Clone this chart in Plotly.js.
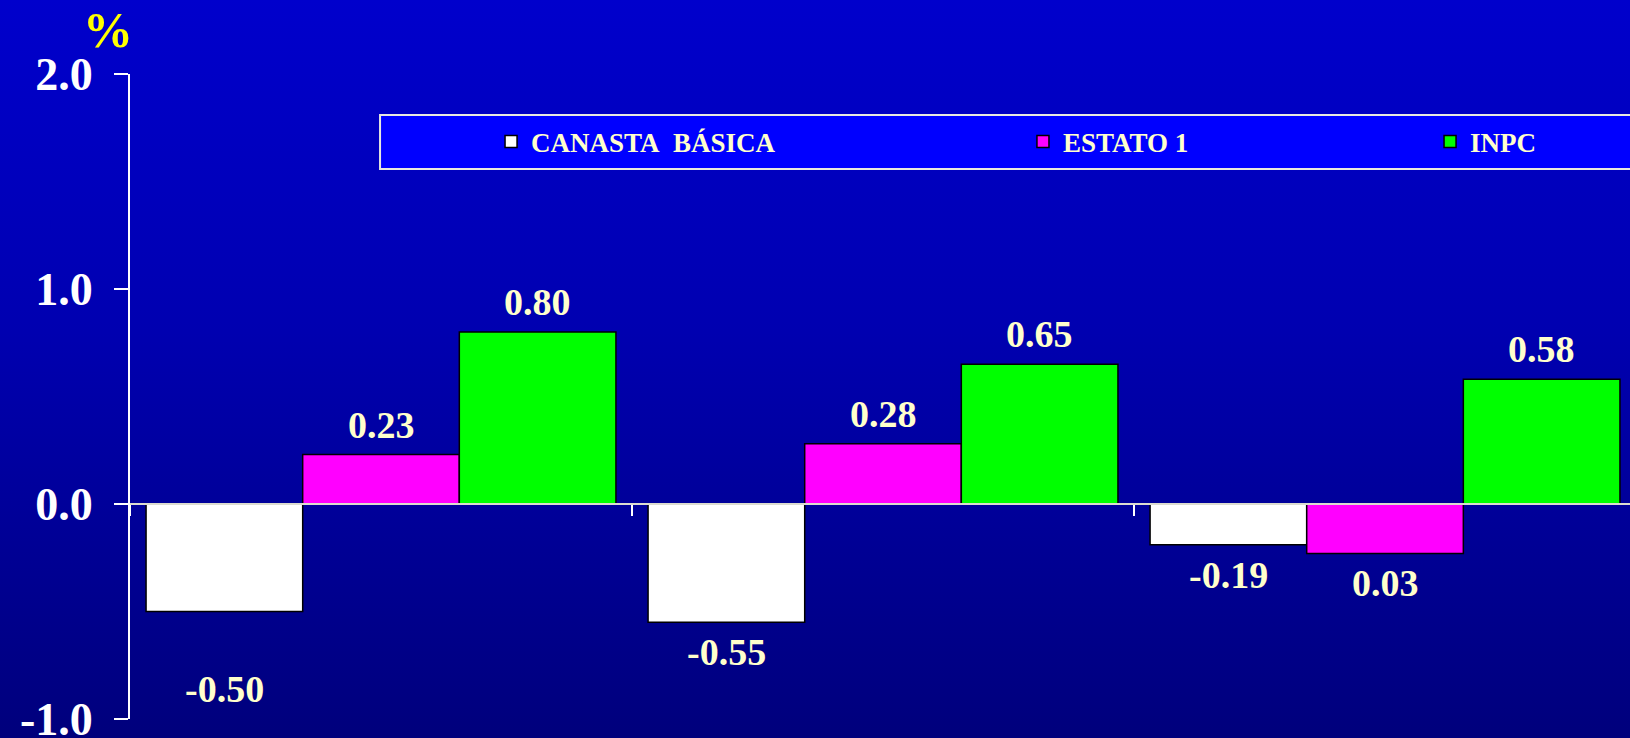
<!DOCTYPE html>
<html>
<head>
<meta charset="utf-8">
<script src="https://cdn.plot.ly/plotly-3.0.1.min.js"></script>
<style>
  html, body { margin: 0; padding: 0; }
  #chart { width: 1630px; height: 738px;
    background: linear-gradient(to bottom, #0000cc 0%, #0000b0 45%, #00007c 100%); }
</style>
</head>
<body>
<div id="chart"></div>
<script>
// ---- data ----
const categories = ["G1", "G2", "G3"];
const seriesNames = ["CANASTA\u00a0 BÁSICA", "ESTATO 1", "INPC"];
const canasta = [-0.50, -0.55, -0.19];
const estato = [0.23, 0.28, -0.23];
const inpc = [0.80, 0.65, 0.58];
const canastaLabels = ["-0.50", "-0.55", "-0.19"];
const estatoLabels = ["0.23", "0.28", "0.03"];
const inpcLabels = ["0.80", "0.65", "0.58"];
const yTickVals = [-1, 0, 1, 2];
const yTickText = ["-1.0", "0.0", "1.0", "2.0"];

const SERIF = "Liberation Serif, Times New Roman, serif";
const colors = ["#ffffff", "#ff00ff", "#00ff00"];
const values = [canasta, estato, inpc];
const labels = [canastaLabels, estatoLabels, inpcLabels];
const legendIds = ["legend", "legend2", "legend3"];

const traces = values.map((v, i) => ({
  type: "bar",
  x: categories,
  y: v,
  name: seriesNames[i],
  legend: legendIds[i],
  marker: { color: colors[i], line: { color: "#000000", width: 1.5 } },
  hoverinfo: "skip"
}));

const xRange = [-0.5, 2.488];
const plotW = 1500, bargap = 0.064;
const barPx = plotW / (xRange[1] - xRange[0]) * (1 - bargap) / values.length;
const extraDrop = { "0-0": 47 };

const annotations = [];
values.forEach((v, s) => {
  v.forEach((val, c) => {
    const pos = val >= 0;
    const drop = extraDrop[s + "-" + c] || 0;
    annotations.push({
      x: categories[c], y: val, xref: "x", yref: "y",
      xshift: (s - 1) * barPx,
      yshift: pos ? 7 : -7 - drop,
      yanchor: pos ? "bottom" : "top",
      text: labels[s][c], showarrow: false,
      font: { family: SERIF, size: 38, color: "#ffffcc", weight: "bold" }
    });
  });
});
annotations.push({
  xref: "paper", yref: "paper", x: -0.0147, y: 1.068,
  xanchor: "center", yanchor: "middle", showarrow: false,
  text: "%", font: { family: SERIF, size: 50, color: "#ffff00", weight: "bold" }
});

const legendFont = { family: SERIF, size: 27, color: "#ffffcc", weight: "bold" };
function leg(x) {
  return { orientation: "h", x: x, y: 0.8946, xanchor: "left", yanchor: "middle",
    bgcolor: "rgba(0,0,0,0)", borderwidth: 0, font: legendFont };
}

const layout = {
  width: 1630, height: 738,
  margin: { l: 130, r: 0, t: 74, b: 19, pad: 0 },
  paper_bgcolor: "rgba(0,0,0,0)",
  plot_bgcolor: "rgba(0,0,0,0)",
  barmode: "group", bargap: bargap, bargroupgap: 0,
  showlegend: true,
  legend: leg(0.2407), legend2: leg(0.5953), legend3: leg(0.8667),
  xaxis: {
    type: "category", anchor: "free", position: 1 / 3, range: xRange,
    showline: true, linecolor: "#dcdcd0", linewidth: 2,
    ticks: "outside", tickson: "boundaries", ticklen: 11, tickwidth: 2, tickcolor: "#ffffff",
    showticklabels: false, showgrid: false, zeroline: false, fixedrange: true
  },
  yaxis: {
    range: [-1, 2], tickvals: yTickVals, ticktext: yTickText,
    showline: true, linecolor: "#ffffff", linewidth: 2,
    ticks: "outside", ticklen: 14, tickwidth: 2, tickcolor: "#ffffff",
    ticklabelstandoff: 12, ticklabeloverflow: "allow",
    tickfont: { family: SERIF, size: 46, color: "#ffffff", weight: "bold" },
    showgrid: false, zeroline: true, zerolinecolor: "#dcdcd0", zerolinewidth: 2,
    fixedrange: true
  },
  shapes: [{
    type: "rect", xref: "paper", yref: "paper",
    x0: 0.1667, x1: 1.01, y0: 0.8527, y1: 0.9364,
    fillcolor: "#0000ff", line: { color: "#e8e8e0", width: 2 }, layer: "below"
  }],
  annotations: annotations
};

Plotly.newPlot("chart", traces, layout, { displayModeBar: false, staticPlot: true });
</script>
</body>
</html>
